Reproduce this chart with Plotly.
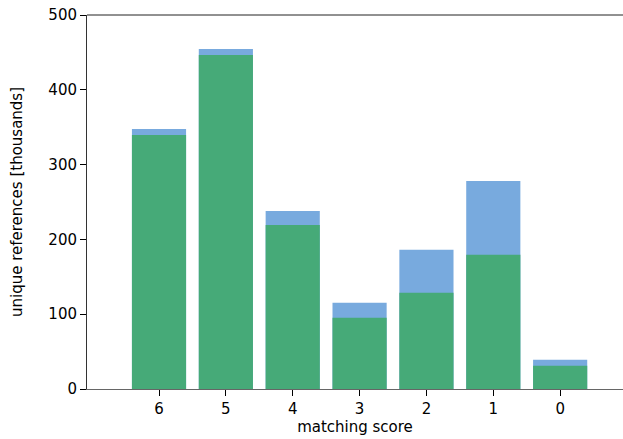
import plotly.graph_objects as go

scores = ["6", "5", "4", "3", "2", "1", "0"]
total_refs = [347.7, 454.5, 238.1, 115.3, 186.0, 278.2, 39.1]
matched_refs = [339.7, 446.5, 219.4, 95.2, 128.6, 179.4, 31.1]

xpos = list(range(len(scores)))

fig = go.Figure()
fig.add_trace(go.Bar(x=xpos, y=total_refs, marker=dict(color="#78AADE", line=dict(width=0)),
                     width=0.81, showlegend=False))
fig.add_trace(go.Bar(x=xpos, y=matched_refs, marker=dict(color="#46AA78", line=dict(width=0)),
                     width=0.81, showlegend=False))

font = dict(family="DejaVu Sans", size=15, color="black")
fig.update_layout(
    barmode="overlay",
    width=623, height=439,
    margin=dict(l=87, r=0, t=15, b=50),
    plot_bgcolor="white", paper_bgcolor="white",
    font=font,
    xaxis=dict(
        tickmode="array", tickvals=xpos, ticktext=scores,
        range=[-1.077, 6.94],
        showline=True, linecolor="#666", linewidth=1,
        ticks="outside", ticklen=6, tickcolor="black",
        showgrid=False, zeroline=False,
        title=dict(text="matching score", standoff=4, font=dict(size=15)),
        tickfont=dict(size=15),
    ),
    yaxis=dict(
        range=[0, 500], tickvals=[0, 100, 200, 300, 400, 500],
        showline=True, linecolor="#333", linewidth=1,
        ticks="outside", ticklen=6, tickcolor="black",
        showgrid=False, zeroline=False,
        title=dict(text="unique references [thousands]", standoff=22, font=dict(size=15)),
        tickfont=dict(size=15),
    ),
    shapes=[dict(type="line", xref="paper", yref="paper", x0=0, x1=1, y0=1, y1=1,
                 line=dict(color="#222", width=1))],
)

fig.write_html("out.html", config={"displayModeBar": False},
               post_script="document.body.style.margin='0';document.body.style.overflow='hidden';")
